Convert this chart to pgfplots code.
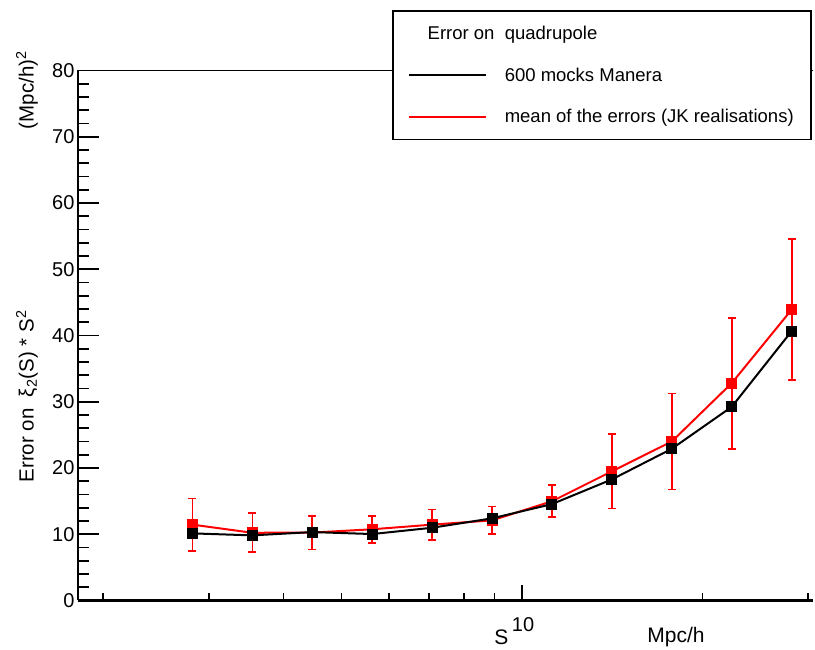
\documentclass[border=0pt]{standalone}
\usepackage{fontspec}
\setmainfont{Liberation Sans}
\usepackage{pgfplots}
\pgfplotsset{compat=1.18}

% bins: centres of log bins, step 10^0.1
\pgfplotstableread{
x        mock   jk     jkerr
2.818    10.13  11.45  3.95
3.548     9.83  10.22  2.93
4.467    10.33  10.25  2.55
5.623    10.03  10.75  2.05
7.079    10.98  11.45  2.28
8.913    12.40  12.10  2.08
11.220   14.55  14.98  2.43
14.125   18.28  19.50  5.60
17.783   22.90  24.00  7.24
22.387   29.23  32.80  9.88
28.184   40.65  43.90 10.67
}\quadtab

\begin{document}
\begin{tikzpicture}
\useasboundingbox (-78pt,-49.5pt) rectangle (737pt,600.5pt);
\begin{axis}[
    at={(0pt,0pt)}, anchor=south west,
    scale only axis,
    clip=false,
    width=735pt, height=530pt,
    xmode=log,
    xmin=1.815, xmax=30.6,
    ymin=0, ymax=80,
    axis x line*=bottom,
    axis y line*=left,
    x axis line style={line width=2.2pt, -},
    y axis line style={line width=2pt, -},
    tick align=inside,
    xtick={10}, xticklabels={10},
    minor xtick={2,3,4,5,6,7,8,9,20,30},
    ytick={0,10,...,80},
    minor y tick num=4,
    xtick style={line width=1.6pt, black, /pgfplots/major tick length=15pt, /pgfplots/minor tick length=7pt},
    ytick style={line width=1.6pt, black, /pgfplots/major tick length=21pt, /pgfplots/minor tick length=11pt},
    tick label style={font=\fontsize{20}{24}\selectfont},
    /pgf/number format/assume math mode=true,
    xticklabel style={anchor=north, yshift=-14pt, xshift=1pt},
    legend style={
        at={(0.4272,1.1142)}, anchor=north west,
        draw=black, line width=1.6pt, fill=white,
        font=\fontsize{18.5}{20}\selectfont,
        inner xsep=15pt, inner ysep=13pt,
        row sep=23pt,
        /tikz/every odd column/.append style={column sep=16pt},
    },
    legend cell align=left,
    legend image code/.code={\draw[#1] (0pt,0pt) -- (77pt,0pt);},
]
\addlegendimage{empty legend}
\addlegendentry{\llap{Error on\ \ }quadrupole}
\addlegendimage{black, line width=2pt}
\addlegendentry{600 mocks Manera}
\addlegendimage{red, line width=2pt}
\addlegendentry{mean of the errors (JK realisations)\hspace{60pt}}

\addplot+[red, line width=2pt, mark=square*, mark size=4.5pt,
    mark options={red, solid},
    error bars/.cd, y dir=both, y explicit,
    error mark options={red, line width=1.8pt, mark size=4pt, rotate=90},
    error bar style={red, line width=1.8pt}]
    table[x=x, y=jk, y error=jkerr] {\quadtab};
\addplot+[black, line width=2pt, mark=square*, mark size=4.5pt,
    mark options={black, solid}]
    table[x=x, y=mock] {\quadtab};

\draw[line width=1pt] (rel axis cs:0,1) -- (rel axis cs:1,1);
\node[font=\fontsize{21}{24}\selectfont] at (rel axis cs:0.5760,-0.0689) {S};
\node[font=\fontsize{21}{24}\selectfont] at (rel axis cs:0.8136,-0.0689) {Mpc/h};
\node[font=\fontsize{20.5}{24}\selectfont, rotate=90] at (rel axis cs:-0.0694,0.385)
    {Error on\ \ ξ\textsubscript{2}(S) * S\textsuperscript{2}};
\node[font=\fontsize{20.5}{24}\selectfont, rotate=90] at (rel axis cs:-0.0694,0.963)
    {(Mpc/h)\textsuperscript{2}};
\end{axis}
\end{tikzpicture}
\end{document}
